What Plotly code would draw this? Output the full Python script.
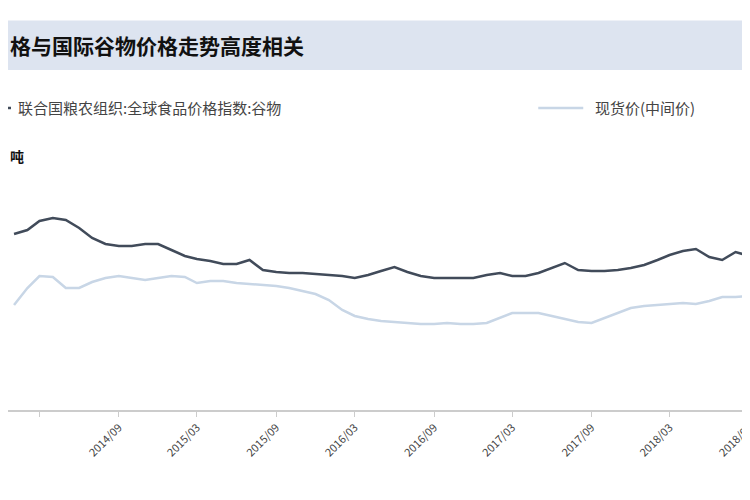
import pandas as pd
import plotly.graph_objects as go

months = pd.date_range('2014-01-01', '2018-10-01', freq='MS')

fao_cereal = [176, 180, 189, 192, 190, 182, 172, 166, 164, 164, 166, 166, 160, 154, 151, 149,
              146, 146, 150, 140, 138, 137, 137, 136, 135, 134, 132, 135, 139, 143, 138, 134,
              132, 132, 132, 132, 135, 137, 134, 134, 137, 142, 147, 140, 139, 139, 140, 142,
              145, 150, 155, 159, 161, 153, 150, 158, 154, 155]
spot_mid = [105, 122, 134, 133, 122, 122, 128, 132, 134, 132, 130, 132, 134, 133, 127, 129,
            129, 127, 126, 125, 124, 122, 119, 116, 110, 100, 94, 91, 89, 88, 87, 86,
            86, 87, 86, 86, 87, 92, 97, 97, 97, 94, 91, 88, 87, 92, 97, 102,
            104, 105, 106, 107, 106, 109, 113, 113, 114, 116]

title_text = '格与国际谷物价格走势高度相关'
legend_dark = '联合国粮农组织:全球食品价格指数:谷物'
legend_light = '现货价(中间价)'
unit_text = '吨'

font = 'Noto Sans CJK SC'

fig = go.Figure()
fig.add_trace(go.Scatter(x=months, y=fao_cereal, mode='lines',
                         line=dict(color='#414b5a', width=2.5), showlegend=False))
fig.add_trace(go.Scatter(x=months, y=spot_mid, mode='lines',
                         line=dict(color='#c8d6e6', width=2.5), showlegend=False))

fig.update_layout(
    width=750, height=500,
    margin=dict(l=0, r=0, t=160, b=98),
    paper_bgcolor='white', plot_bgcolor='white',
    font=dict(family=font, color='#333'),
    xaxis=dict(range=['2013-12-18', '2018-09-22'], tick0='2014-03-01', dtick='M6',
               tickformat='%Y/%m', tickangle=-45, showgrid=False, showline=True,
               linecolor='#cccccc', linewidth=1.5, ticks='outside', ticklen=5,
               tickcolor='#cccccc', tickfont=dict(size=11, color='#444'),
               automargin=False),
    yaxis=dict(range=[0, 242], visible=False, automargin=False),
    shapes=[
        dict(type='rect', xref='paper', yref='paper', x0=-0.01, x1=1.01,
             y0=1.405, y1=1.61, fillcolor='#dde4f0', line=dict(width=0), layer='below'),
        dict(type='line', xref='paper', yref='paper', x0=-0.01, x1=0.004,
             y0=1.248, y1=1.248, line=dict(color='#414b5a', width=2.5)),
        dict(type='line', xref='paper', yref='paper', x0=0.707, x1=0.767,
             y0=1.248, y1=1.248, line=dict(color='#c8d6e6', width=2.5)),
    ],
    annotations=[
        dict(text='<b>' + title_text + '</b>', xref='paper', yref='paper', x=0, y=1.508,
             xanchor='left', yanchor='middle', showarrow=False,
             font=dict(size=21, color='#111', family=font)),
        dict(text=legend_dark, xref='paper', yref='paper', x=0.01, y=1.248,
             xanchor='left', yanchor='middle', showarrow=False,
             font=dict(size=15, color='#444', family=font)),
        dict(text=legend_light, xref='paper', yref='paper', x=0.78, y=1.248,
             xanchor='left', yanchor='middle', showarrow=False,
             font=dict(size=15, color='#444', family=font)),
        dict(text='<b>' + unit_text + '</b>', xref='paper', yref='paper', x=0.0, y=1.05,
             xanchor='left', yanchor='middle', showarrow=False,
             font=dict(size=14, color='#111', family=font)),
    ],
)

fig.write_html('out.html')
